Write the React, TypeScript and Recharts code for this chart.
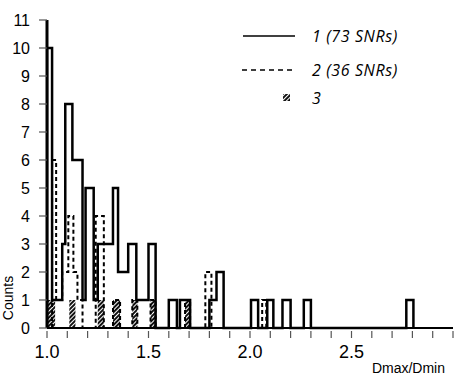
import React from 'react';
import { ComposedChart, Line, Area, XAxis, YAxis } from 'recharts';

// bin edges (Dmax/Dmin) and counts per bin
const edges1 = [1.0, 1.025, 1.075, 1.09, 1.125, 1.175, 1.19, 1.23, 1.25, 1.325, 1.35, 1.4, 1.44, 1.5, 1.535, 1.6, 1.64, 1.655, 1.705, 1.8, 1.835, 1.87, 2.005, 2.04, 2.085, 2.115, 2.16, 2.2, 2.265, 2.3, 2.77, 2.805];
const counts1 = [10, 1, 3, 8, 6, 1, 5, 1, 3, 5, 2, 3, 1, 3, 0, 1, 0, 1, 0, 1, 2, 0, 1, 0, 1, 0, 1, 0, 1, 0, 1];

const edges2 = [1.025, 1.045, 1.075, 1.105, 1.13, 1.15, 1.175, 1.24, 1.28, 1.325, 1.36, 1.42, 1.445, 1.51, 1.535, 1.68, 1.705, 1.78, 1.81, 2.06, 2.08];
const counts2 = [6, 1, 2, 4, 2, 1, 0, 4, 0, 1, 0, 1, 0, 1, 0, 1, 0, 2, 0, 1];

const edges3 = [1.0, 1.04, 1.11, 1.14, 1.25, 1.28, 1.325, 1.36, 1.42, 1.445, 1.51, 1.535, 1.68, 1.705];
const counts3 = [1, 0, 1, 0, 1, 0, 1, 0, 1, 0, 1, 0, 1];

const xTicks = [1.0, 1.1, 1.2, 1.3, 1.4, 1.5, 1.6, 1.7, 1.8, 1.9, 2.0, 2.1, 2.2, 2.3, 2.4, 2.5, 2.6, 2.7, 2.8, 2.9, 3.0];
const xLabels = ['1.0', '1.5', '2.0', '2.5'];
const yTicks = [0, 1, 2, 3, 4, 5, 6, 7, 8, 9, 10, 11];

const legendLabels = ['1 (73 SNRs)', '2 (36 SNRs)', '3'];

// turn edges + counts into a step outline (stepAfter)
const steps = (edges: number[], counts: number[]) => {
  const pts = [{ x: edges[0], y: 0 }];
  counts.forEach((c, i) => pts.push({ x: edges[i], y: c }));
  pts.push({ x: edges[edges.length - 1], y: 0 });
  return pts;
};

const data1 = steps(edges1, counts1);
const data2 = steps(edges2, counts2);
const data3 = steps(edges3, counts3);

const sans = '"Liberation Sans", Arial, sans-serif';
const legendFont = '"Open Sans", sans-serif';

const HatchDef = ({ id }: { id: string }) => (
  <pattern id={id} width={3} height={3} patternUnits="userSpaceOnUse" patternTransform="rotate(45)">
    <rect width={3} height={3} fill="#fff" />
    <rect width={2} height={3} fill="#111" />
  </pattern>
);

// legend drawn as an overlay so it does not eat plot space
const LegendBox = () => (
  <svg width={220} height={90} style={{ position: 'absolute', left: 240, top: 25 }}>
    <defs>
      <HatchDef id="hatchLegend" />
    </defs>
    <line x1={3} x2={55} y1={11} y2={11} stroke="#000" strokeWidth={1.5} />
    <text x={72} y={17} fontFamily={legendFont} fontStyle="italic" fontWeight={500} fontSize={16} letterSpacing={0.6} fill="#000">{legendLabels[0]}</text>
    <line x1={2} x2={55} y1={45} y2={45} stroke="#000" strokeWidth={1.5} strokeDasharray="5 4" />
    <text x={72} y={51} fontFamily={legendFont} fontStyle="italic" fontWeight={500} fontSize={16} letterSpacing={0.6} fill="#000">{legendLabels[1]}</text>
    <rect x={43} y={69} width={7} height={7} fill="url(#hatchLegend)" />
    <text x={72} y={79} fontFamily={legendFont} fontStyle="italic" fontWeight={500} fontSize={16} fill="#000">{legendLabels[2]}</text>
  </svg>
);

const XTick = ({ x, y, payload }: any) => {
  const label = payload.value.toFixed(1);
  return (
    <g transform={`translate(${x},${y})`}>
      <line x1={0} x2={0} y1={-5} y2={2} stroke="#555" strokeWidth={1.2} />
      {xLabels.includes(label) && Math.abs(payload.value * 2 - Math.round(payload.value * 2)) < 1e-6 && (
        <text x={0} y={22} textAnchor="middle" fontFamily={sans} fontSize={18} fill="#000">{label}</text>
      )}
    </g>
  );
};

export default function App() {
  return (
    <div style={{ position: 'absolute', left: 0, top: 0, width: 458, height: 382, background: '#fff' }}>
      <ComposedChart width={458} height={382} margin={{ top: 20, right: 5, bottom: 0, left: 0 }}>
        <defs>
          <HatchDef id="hatch" />
        </defs>
        <XAxis
          type="number"
          dataKey="x"
          domain={[1, 3]}
          ticks={xTicks}
          allowDataOverflow
          height={54}
          axisLine={{ stroke: '#000', strokeWidth: 2 }}
          tickLine={false}
          tick={<XTick />}
          interval={0}
        />
        <YAxis
          type="number"
          dataKey="y"
          domain={[0, 11]}
          ticks={yTicks}
          interval={0}
          width={47}
          tickSize={8}
          tickMargin={9}
          axisLine={{ stroke: '#000', strokeWidth: 3 }}
          tickLine={{ stroke: '#555', strokeWidth: 1.2 }}
          tick={{ fontFamily: sans, fontSize: 16, fill: '#000' }}
        />
        <Area
          data={data3}
          dataKey="y"
          type="stepAfter"
          stroke="none"
          fill="url(#hatch)"
          fillOpacity={1}
          isAnimationActive={false}
          dot={false}
          activeDot={false}
        />
        <Line
          data={data2}
          dataKey="y"
          type="stepAfter"
          stroke="#000"
          strokeWidth={2}
          strokeDasharray="4 3"
          isAnimationActive={false}
          dot={false}
          activeDot={false}
        />
        <Line
          data={data1}
          dataKey="y"
          type="stepAfter"
          stroke="#000"
          strokeWidth={2.5}
          isAnimationActive={false}
          dot={false}
          activeDot={false}
        />
        <text x={8} y={298} transform="rotate(-90 8 298)" textAnchor="middle" dominantBaseline="central" fontFamily={sans} fontSize={14} fill="#000">Counts</text>
        <text x={445} y={373} textAnchor="end" fontFamily={sans} fontSize={14} fill="#000">Dmax/Dmin</text>
      </ComposedChart>
      <LegendBox />
    </div>
  );
}
